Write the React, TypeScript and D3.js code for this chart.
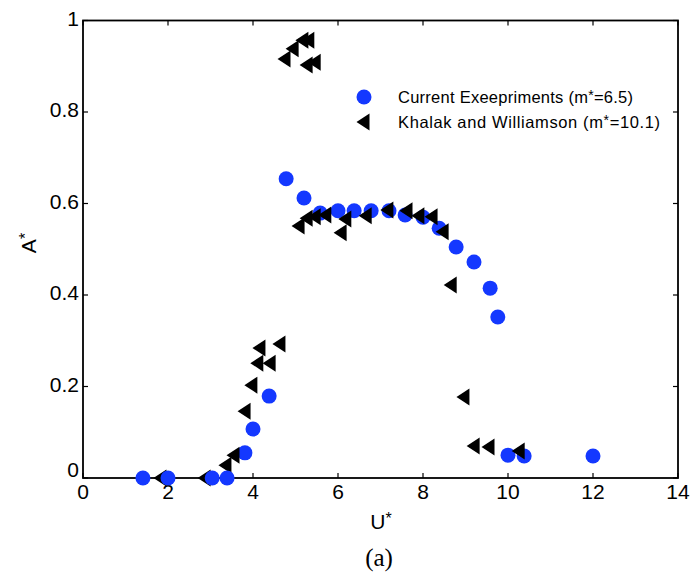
import React from "react";
import * as d3 from "d3";

const currentU = [1.41, 2.0, 3.04, 3.39, 3.81, 4.0, 4.38, 4.78, 5.2, 5.58, 6.0, 6.38, 6.78, 7.2, 7.58, 8.0, 8.38, 8.78, 9.2, 9.58, 9.76, 10.0, 10.38, 12.0];
const currentA = [0, 0, 0, 0, 0.055, 0.107, 0.179, 0.654, 0.612, 0.579, 0.584, 0.584, 0.584, 0.584, 0.575, 0.57, 0.546, 0.505, 0.472, 0.415, 0.352, 0.05, 0.048, 0.048];

const khalakU = [1.81, 2.85, 3.34, 3.53, 3.79, 3.95, 4.09, 4.38, 4.14, 4.61, 4.73, 4.92, 5.15, 5.29, 5.25, 5.44, 5.06, 5.25, 5.44, 5.69, 6.05, 6.16, 6.64, 7.15, 7.6, 7.88, 8.19, 8.45, 8.64, 8.94, 9.18, 9.53, 10.24];
const khalakA = [0, 0, 0.028, 0.05, 0.146, 0.203, 0.251, 0.251, 0.284, 0.293, 0.916, 0.938, 0.957, 0.957, 0.903, 0.909, 0.551, 0.568, 0.571, 0.575, 0.536, 0.566, 0.573, 0.586, 0.584, 0.573, 0.571, 0.538, 0.422, 0.177, 0.07, 0.068, 0.059];

const xTicks = [0, 2, 4, 6, 8, 10, 12, 14];
const yTicks = [0, 0.2, 0.4, 0.6, 0.8, 1];
const yTickLabels = ["0", "0.2", "0.4", "0.6", "0.8", "1"];
const legendLabels = ["Current Exeepriments (m", "Khalak and Williamson (m"];
const legendTails = ["=6.5)", "=10.1)"];
const legendWidths = [235, 262];

const BLUE = "#1438ff";
const FONT = "'Liberation Sans', Arial, Helvetica, sans-serif";

export default function App() {
  const x = d3.scaleLinear().domain([0, 14]).range([83, 678]);
  const y = d3.scaleLinear().domain([0, 1]).range([478, 20.5]);
  const [x0, x1] = x.range();
  const [y0, y1] = y.range();
  const tri = "M-6.5,0L6.5,-8.5L6.5,8.5Z";
  const tick = 5;

  const khalak = khalakU.map((u, i) => ({ u, a: khalakA[i] }));
  const current = currentU.map((u, i) => ({ u, a: currentA[i] }));
  const khalakLow = khalak.filter((d) => d.u < 3.5);
  const khalakRest = khalak.filter((d) => d.u >= 3.5);

  return (
    <svg width={691} height={587} style={{ position: "absolute", left: 0, top: 0, background: "#fff" }} fontFamily={FONT}>
      <rect x={0} y={0} width={691} height={587} fill="#fff" />
      {xTicks.map((t) => (
        <g key={"xt" + t}>
          <line x1={x(t)} x2={x(t)} y1={y0} y2={y0 - tick} stroke="#000" strokeWidth={1.2} />
          <line x1={x(t)} x2={x(t)} y1={y1} y2={y1 + tick} stroke="#000" strokeWidth={1.2} />
          <text x={x(t)} y={y0 + 21} fontSize={21} textAnchor="middle" fill="#000">{t}</text>
        </g>
      ))}
      {yTicks.map((t, i) => (
        <g key={"yt" + t}>
          <line x1={x0} x2={x0 + tick} y1={y(t)} y2={y(t)} stroke="#000" strokeWidth={1.2} />
          <line x1={x1} x2={x1 - tick} y1={y(t)} y2={y(t)} stroke="#000" strokeWidth={1.2} />
          <text x={x0 - 4} y={t === 0 ? y(t) - 1 : y(t) + 5} fontSize={21} textAnchor="end" fill="#000">{yTickLabels[i]}</text>
        </g>
      ))}
      <rect x={x0} y={y1} width={x1 - x0} height={y0 - y1} fill="none" stroke="#000" strokeWidth={1.8} />

      {khalakLow.map((d, i) => (
        <path key={"kl" + i} d={tri} transform={`translate(${x(d.u)},${y(d.a)})`} fill="#000" />
      ))}
      {current.map((d, i) => (
        <circle key={"c" + i} cx={x(d.u)} cy={y(d.a)} r={7.5} fill={BLUE} />
      ))}
      {khalakRest.map((d, i) => (
        <path key={"k" + i} d={tri} transform={`translate(${x(d.u)},${y(d.a)})`} fill="#000" />
      ))}

      <circle cx={364} cy={97} r={7.5} fill={BLUE} />
      <path d={tri} transform="translate(363,122)" fill="#000" />
      {legendLabels.map((l, i) => (
        <text key={"lg" + i} x={398} y={103 + i * 25} fontSize={16.5} fill="#000" textLength={legendWidths[i]} lengthAdjust="spacing">
          {l}
          <tspan fontSize={14} dy={-3}>*</tspan>
          <tspan dy={3}>{legendTails[i]}</tspan>
        </text>
      ))}

      <text x={381} y={529} fontSize={21} textAnchor="middle" fill="#000">
        U<tspan fontSize={16} dy={-5}>*</tspan>
      </text>
      <text transform="translate(36,243) rotate(-90)" fontSize={21} textAnchor="middle" fill="#000">
        A<tspan fontSize={16} dy={-5}>*</tspan>
      </text>
      <text x={379} y={566} fontSize={25} textAnchor="middle" fontFamily="'Liberation Serif', 'Times New Roman', serif" fill="#000">(a)</text>
    </svg>
  );
}
